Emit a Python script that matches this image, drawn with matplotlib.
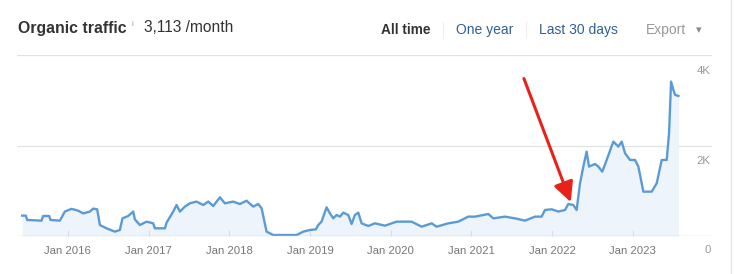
import matplotlib.pyplot as plt
from matplotlib.lines import Line2D

plt.rcParams['font.family'] = ['Liberation Sans', 'DejaVu Sans']

# decimal year of each point, organic traffic per month
years = [2015.434, 2015.480, 2015.496, 2015.674, 2015.694, 2015.769, 2015.785, 2015.901,
         2015.963, 2016.045, 2016.128, 2016.190, 2016.273, 2016.314, 2016.363, 2016.397,
         2016.479, 2016.582, 2016.644, 2016.677, 2016.748, 2016.810, 2016.830, 2016.892,
         2016.975, 2017.057, 2017.078, 2017.202, 2017.223, 2017.305, 2017.347, 2017.388,
         2017.450, 2017.512, 2017.594, 2017.677, 2017.739, 2017.801, 2017.884, 2017.945,
         2018.049, 2018.131, 2018.214, 2018.296, 2018.358, 2018.400, 2018.462, 2018.544,
         2018.833, 2018.916, 2018.999, 2019.073, 2019.102, 2019.143, 2019.205, 2019.247,
         2019.288, 2019.329, 2019.371, 2019.412, 2019.474, 2019.515, 2019.556, 2019.598,
         2019.639, 2019.722, 2019.804, 2019.928, 2020.073, 2020.258, 2020.383, 2020.507,
         2020.568, 2020.713, 2020.837, 2020.961, 2021.044, 2021.209, 2021.271, 2021.415,
         2021.539, 2021.663, 2021.787, 2021.869, 2021.911, 2021.994, 2022.076, 2022.159,
         2022.200, 2022.262, 2022.303, 2022.345, 2022.386, 2022.427, 2022.456, 2022.530,
         2022.572, 2022.621, 2022.675, 2022.758, 2022.820, 2022.861, 2022.903, 2022.965,
         2023.027, 2023.068, 2023.130, 2023.233, 2023.295, 2023.357, 2023.419, 2023.448,
         2023.473, 2023.502, 2023.523, 2023.564]
traffic = [450, 450, 354, 340, 442, 442, 354, 340,
           540, 600, 560, 500, 540, 605, 590, 243,
           170, 96, 133, 390, 442, 540, 368, 243,
           317, 280, 170, 170, 295, 540, 685, 540,
           650, 722, 760, 685, 760, 663, 855, 722,
           760, 707, 780, 650, 707, 612, 96, 22,
           22, 96, 133, 147, 243, 317, 634, 500,
           390, 464, 428, 516, 464, 265, 464, 516,
           280, 221, 280, 228, 317, 317, 206, 280,
           206, 280, 317, 428, 428, 486, 390, 428,
           390, 340, 428, 428, 575, 590, 540, 575,
           707, 685, 575, 1164, 1533, 1865, 1533, 1592,
           1533, 1422, 1680, 2086, 1975, 2086, 1828, 1680,
           1680, 1533, 980, 980, 1164, 1680, 1680, 2270,
           3412, 3228, 3118, 3095]

tick_years = [2016, 2017, 2018, 2019, 2020, 2021, 2022, 2023]
tick_labels = ['Jan %d' % y for y in tick_years]
y_ticks = [0, 2000, 4000]
y_labels = ['0', '2K', '4K']

fig = plt.figure(figsize=(7.35, 2.74), dpi=100)
ax = fig.add_axes([17 / 735, 38 / 274, 695 / 735, 181 / 274])

ax.fill_between(years, traffic, 0, color='#eef4fb', lw=0)
ax.plot(years, traffic, color='#5b9bd5', lw=1.7, solid_joinstyle='round')

ax.set_xlim(2015.37, 2023.98)
ax.set_ylim(0, 4000)

for s in ax.spines.values():
    s.set_visible(False)
for v in y_ticks[1:]:
    ax.axhline(v, color='#e2e2e2', lw=0.9, zorder=0)
ax.axhline(0, color='#cccccc', lw=1.0)

ax.set_xticks(tick_years)
ax.set_xticklabels(tick_labels)
ax.tick_params(axis='x', direction='in', length=4, color='#dddddd', labelsize=8.2,
               labelcolor='#777777', pad=7)
ax.set_yticks([])
for v, lab in zip(y_ticks, y_labels):
    off = -10 if v == 0 else -11.5
    ax.annotate(lab, (1, v), xycoords=('axes fraction', 'data'), xytext=(-1, off),
                textcoords='offset points', ha='right', va='center',
                fontsize=8.2, color='#999999')

# red arrow
ax.annotate('', xy=(2022.23, 750), xytext=(2021.65, 3480),
            arrowprops=dict(arrowstyle='-|>,head_length=1.2,head_width=0.6',
                            color='#e8221b', lw=2.2, shrinkA=0, shrinkB=0))

# header
fig.text(18 / 735, 1 - 28 / 274, 'Organic traffic', fontsize=11.4, fontweight='bold',
         color='#333333', va='center')
fig.text(131 / 735, 1 - 24 / 274, 'i', fontsize=6, color='#999999', va='center')
fig.text(144 / 735, 1 - 28 / 274, '3,113 /month', fontsize=11.2, color='#333333', va='center')

fig.text(381 / 735, 1 - 30 / 274, 'All time', fontsize=9.8, fontweight='bold',
         color='#333333', va='center')
fig.text(456 / 735, 1 - 30 / 274, 'One year', fontsize=10, color='#2f5f98', va='center')
fig.text(539 / 735, 1 - 30 / 274, 'Last 30 days', fontsize=10, color='#2f5f98', va='center')
fig.text(646 / 735, 1 - 30 / 274, 'Export', fontsize=10, color='#999999', va='center')
fig.text(696 / 735, 1 - 30 / 274, '\u25BE', fontsize=8, color='#888888', va='center')

for xp in (443, 526):
    fig.add_artist(Line2D([xp / 735] * 2, [1 - 38 / 274, 1 - 22 / 274], color='#eeeeee', lw=0.8))
fig.add_artist(Line2D([731 / 735] * 2, [0, 1], color='#e4e4e4', lw=1.0))

fig.savefig('out.png', dpi=100)
